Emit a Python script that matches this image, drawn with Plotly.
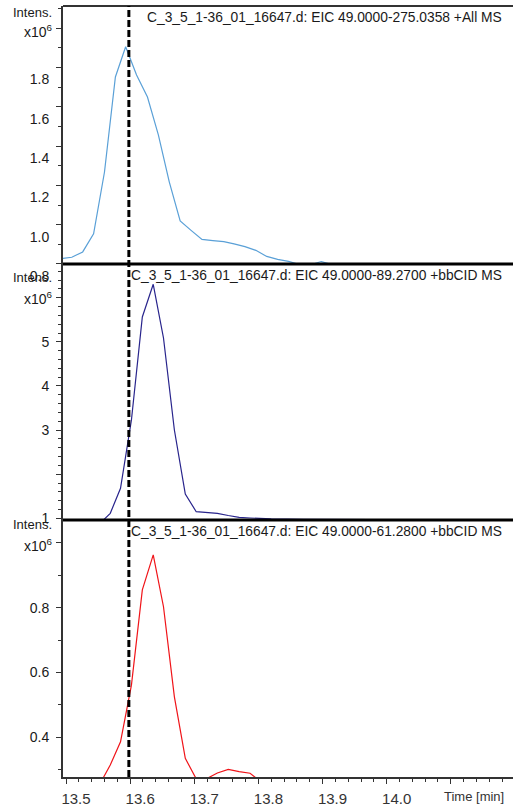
import plotly.graph_objects as go
from plotly.subplots import make_subplots

# ---------------- data ----------------
# Panel 1: EIC 49.0000-275.0358 +All MS  (intensity x1e6)
t_all = [13.474, 13.492, 13.509, 13.526, 13.543, 13.560, 13.577, 13.593, 13.610, 13.627,
         13.644, 13.661, 13.678, 13.695, 13.712, 13.729, 13.746, 13.762, 13.779, 13.796,
         13.813, 13.830, 13.847, 13.864, 13.881, 13.898, 13.915, 13.932, 13.960, 14.000,
         14.100, 14.200]
i_all = [0.820, 0.829, 0.834, 0.861, 0.953, 1.268, 1.752, 1.906, 1.762, 1.650,
         1.457, 1.218, 1.019, 0.971, 0.925, 0.919, 0.913, 0.902, 0.888, 0.869,
         0.838, 0.823, 0.813, 0.797, 0.795, 0.812, 0.797, 0.790, 0.785, 0.780,
         0.775, 0.770]

# Panel 2: EIC 49.0000-89.2700 +bbCID MS  (intensity x1e6)
t_cid1 = [13.535, 13.552, 13.569, 13.585, 13.602, 13.619, 13.636, 13.652, 13.669, 13.686,
          13.703, 13.719, 13.736, 13.753, 13.770, 13.787, 13.803, 13.820, 13.870, 13.950,
          14.100, 14.200]
i_cid1 = [0.80, 0.87, 1.113, 1.680, 3.229, 5.565, 6.306, 5.088, 3.002, 1.551,
          1.150, 1.132, 1.113, 1.063, 1.023, 1.007, 0.995, 0.985, 0.975, 0.970,
          0.965, 0.960]

# Panel 3: EIC 49.0000-61.2800 +bbCID MS  (intensity x1e6)
t_cid2 = [13.535, 13.552, 13.569, 13.585, 13.602, 13.619, 13.636, 13.652, 13.669, 13.686,
          13.703, 13.719, 13.736, 13.753, 13.770, 13.787, 13.803, 13.820, 13.870, 13.950,
          14.100, 14.200]
i_cid2 = [0.240, 0.253, 0.3145, 0.386, 0.561, 0.855, 0.963, 0.803, 0.525, 0.335,
          0.272, 0.272, 0.290, 0.301, 0.294, 0.289, 0.264, 0.255, 0.250, 0.250,
          0.250, 0.250]

marker_rt = 13.598

titles = [
    "C_3_5_1-36_01_16647.d: EIC 49.0000-275.0358 +All MS",
    "C_3_5_1-36_01_16647.d: EIC 49.0000-89.2700 +bbCID MS",
    "C_3_5_1-36_01_16647.d: EIC 49.0000-61.2800 +bbCID MS",
]

x_ticks = [13.5, 13.6, 13.7, 13.8, 13.9, 14.0, 14.1]
x_ticktext = ["13.5", "13.6", "13.7", "13.8", "13.9", "14.0", " "]

y1_ticks = [0.8, 1.0, 1.2, 1.4, 1.6, 1.8, 2.0]
y1_text = ["0.8", "1.0", "1.2", "1.4", "1.6", "1.8", " "]
y2_ticks = [1, 2, 3, 4, 5, 6]
y2_text = ["1", " ", "3", "4", "5", " "]
y3_ticks = [0.4, 0.6, 0.8, 1.0]
y3_text = ["0.4", "0.6", "0.8", " "]

# ---------------- layout geometry ----------------
W, H = 513, 809
ML, MR, MT, MB = 63, 0, 6, 32
PW = W - ML - MR
PH = H - MT - MB


def px(X):
    return (X - ML) / PW


def py(Y):
    return (H - MB - Y) / PH


FONT = "Arial, Liberation Sans, sans-serif"
TXT = "#1a1a1a"

fig = make_subplots(rows=3, cols=1, shared_xaxes=True, vertical_spacing=0)

fig.add_trace(go.Scatter(x=t_all, y=i_all, mode="lines",
                         line=dict(color="rgb(90,160,215)", width=1.2)), row=1, col=1)
fig.add_trace(go.Scatter(x=t_cid1, y=i_cid1, mode="lines",
                         line=dict(color="rgb(40,36,140)", width=1.2)), row=2, col=1)
fig.add_trace(go.Scatter(x=t_cid2, y=i_cid2, mode="lines",
                         line=dict(color="rgb(240,20,25)", width=1.2)), row=3, col=1)

xr = [13.4953, 14.197]
common_x = dict(range=xr, showgrid=False, zeroline=False)
fig.update_layout(
    xaxis=dict(**common_x, showticklabels=False, ticks=""),
    xaxis2=dict(**common_x, showticklabels=False, ticks=""),
    xaxis3=dict(**common_x, showline=True, linecolor="#333", linewidth=2,
                tickmode="array", tickvals=x_ticks, ticktext=x_ticktext,
                ticks="outside", ticklen=5, tickwidth=1.3, tickcolor="#333",
                ticklabelshift=10, ticklabelstandoff=2,
                tickfont=dict(family=FONT, size=15, color="#333"),
                minor=dict(dtick=0.02, tick0=13.5, ticks="outside", ticklen=3,
                           tickwidth=1.2, tickcolor="#333")),
)

ycommon = dict(showgrid=False, zeroline=False, showline=True, linecolor="#333",
               linewidth=2, ticks="outside", ticklen=5, tickwidth=1.2,
               tickcolor="#333", tickmode="array", ticklabelstandoff=4,
               tickfont=dict(family=FONT, size=14, color=TXT))

fig.update_layout(
    yaxis=dict(**ycommon, domain=[py(264), 1.0], range=[0.7995, 2.1135],
               tickvals=y1_ticks, ticktext=y1_text, ticklabelshift=12,
               minor=dict(dtick=0.1, tick0=0.8, ticks="outside", ticklen=3,
                          tickwidth=1.2, tickcolor="#333")),
    yaxis2=dict(**ycommon, domain=[py(520), py(264)], range=[0.9615, 6.766],
                tickvals=y2_ticks, ticktext=y2_text,
                minor=dict(dtick=0.2, tick0=1, ticks="outside", ticklen=3,
                           tickwidth=1.2, tickcolor="#333")),
    yaxis3=dict(**ycommon, domain=[0.0, py(520)], range=[0.2775, 1.0707],
                tickvals=y3_ticks, ticktext=y3_text,
                minor=dict(dtick=0.1, tick0=0.3, ticks="outside", ticklen=3,
                           tickwidth=1.2, tickcolor="#333")),
)

shapes = []
# top border and panel separators
shapes.append(dict(type="line", xref="paper", yref="paper", x0=0, x1=1,
                   y0=py(6), y1=py(6), line=dict(color="#333", width=2)))
for Y in (264, 520):
    shapes.append(dict(type="line", xref="paper", yref="paper", x0=0, x1=1,
                       y0=py(Y), y1=py(Y), line=dict(color="black", width=3)))
# retention-time marker
shapes.append(dict(type="line", xref="x3", yref="paper", x0=marker_rt, x1=marker_rt,
                   y0=0, y1=1, line=dict(color="black", width=3, dash="7px,3px")))

annotations = []
title_y = [18, 275, 531]
intens_y = [12.5, 277, 524]
x10_y = [31, 298, 545]
for k in range(3):
    annotations.append(dict(text=titles[k], xref="paper", yref="paper",
                            x=px(504), y=py(title_y[k]), xanchor="right", yanchor="middle",
                            showarrow=False, font=dict(family=FONT, size=13.8, color=TXT)))
    annotations.append(dict(text="Intens.", xref="paper", yref="paper",
                            x=px(54), y=py(intens_y[k]), xanchor="right", yanchor="middle",
                            showarrow=False, font=dict(family=FONT, size=13, color=TXT)))
    annotations.append(dict(text="x10<sup>6</sup>", xref="paper", yref="paper",
                            x=px(55), y=py(x10_y[k]), xanchor="right", yanchor="middle",
                            showarrow=False, font=dict(family=FONT, size=14, color=TXT)))
annotations.append(dict(text="Time [min]", xref="paper", yref="paper",
                        x=px(506), y=py(797), xanchor="right", yanchor="middle",
                        showarrow=False, font=dict(family=FONT, size=13, color="#333")))

fig.update_layout(
    width=W, height=H, margin=dict(l=ML, r=MR, t=MT, b=MB),
    paper_bgcolor="white", plot_bgcolor="white", showlegend=False,
    shapes=shapes, annotations=annotations,
)

fig.write_html("out.html")
